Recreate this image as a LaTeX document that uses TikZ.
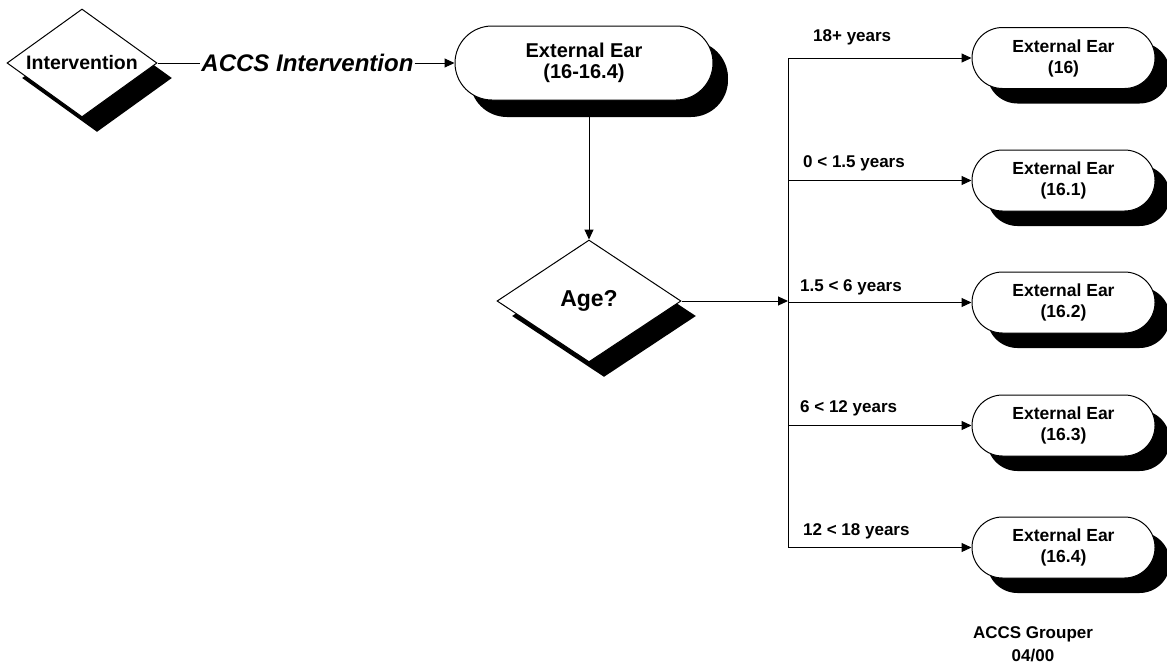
\documentclass[tikz,border=0pt]{standalone}
\usepackage{fontspec}
\setmainfont{Liberation Sans}
\usetikzlibrary{shapes.geometric,shadows,arrows.meta}
\tikzset{
  base/.style={draw=black,fill=white,line width=1pt,font=\bfseries,align=center},
  pill/.style={base,rectangle,rounded corners=30.5pt,minimum width=183pt,minimum height=61pt,inner sep=0pt,
    font=\fontsize{17.5}{21}\selectfont\bfseries,
    drop shadow={shadow xshift=15pt,shadow yshift=-15pt,fill=black,opacity=1}},
  bigpill/.style={pill,rounded corners=37pt,minimum width=258pt,minimum height=74pt,
    font=\fontsize{20}{21}\selectfont\bfseries,
    drop shadow={shadow xshift=15pt,shadow yshift=-17pt,fill=black,opacity=1}},
  decision/.style={base,diamond,inner sep=0pt,
    drop shadow={shadow xshift=15pt,shadow yshift=-15pt,fill=black,opacity=1}},
  lbl/.style={anchor=west,inner sep=0pt,font=\fontsize{17}{20}\selectfont\bfseries},
  conn/.style={line width=1pt},
  arr/.style={line width=1pt,-{Triangle[length=10pt,width=9pt]}}
}
\begin{document}
\begin{tikzpicture}[x=1pt,y=-1pt]
\useasboundingbox (0,0) rectangle (1167,665);

\node[decision,minimum width=150pt,minimum height=108pt,font=\fontsize{19.5}{21}\selectfont\bfseries]
  (int) at (82,63) {\makebox[0pt]{Intervention}};
\node[inner sep=1pt,font=\fontsize{24}{26}\selectfont\bfseries\itshape] (acl) at (307.5,63) {ACCS Intervention};
\node[bigpill] (ee) at (584,63) {External Ear\\(16-16.4)};
\node[decision,minimum width=184pt,minimum height=122pt,font=\fontsize{23}{25}\selectfont\bfseries]
  (age) at (589,301) {\makebox[0pt]{Age?}};

\node[pill] (b1) at (1063.5,58) {External Ear\\(16)};
\node[pill] (b2) at (1063.5,180.5) {External Ear\\(16.1)};
\node[pill] (b3) at (1063.5,302.5) {External Ear\\(16.2)};
\node[pill] (b4) at (1063.5,425.5) {External Ear\\(16.3)};
\node[pill] (b5) at (1063.5,547.5) {External Ear\\(16.4)};

\coordinate (bt) at (788,58);
\coordinate (bb) at (788,547.5);
\coordinate (bus) at (788,301);

\draw[conn] (int.east) -- (acl.west);
\draw[arr] (acl.east) -- (ee.west);
\draw[arr] (ee.south -| age.north) -- (age.north);
\draw[arr] (age.east) -- (bus);
\draw[conn] (bt) -- (bb);
\foreach \b in {b1,b2,b3,b4,b5}{
  \draw[arr] (\b.west -| bt) -- (\b.west);
}

\node[lbl] (l1) at (813,37) {18+ years};
\node[lbl] (l2) at (803,163) {0 < 1.5 years};
\node[lbl] (l3) at (800,287) {1.5 < 6 years};
\node[lbl] (l4) at (800,408.5) {6 < 12 years};
\node[lbl] (l5) at (803,531.5) {12 < 18 years};

\node[align=center,font=\fontsize{17}{23}\selectfont\bfseries] (grp) at (1033,644) {ACCS Grouper\\04/00};
\end{tikzpicture}
\end{document}
